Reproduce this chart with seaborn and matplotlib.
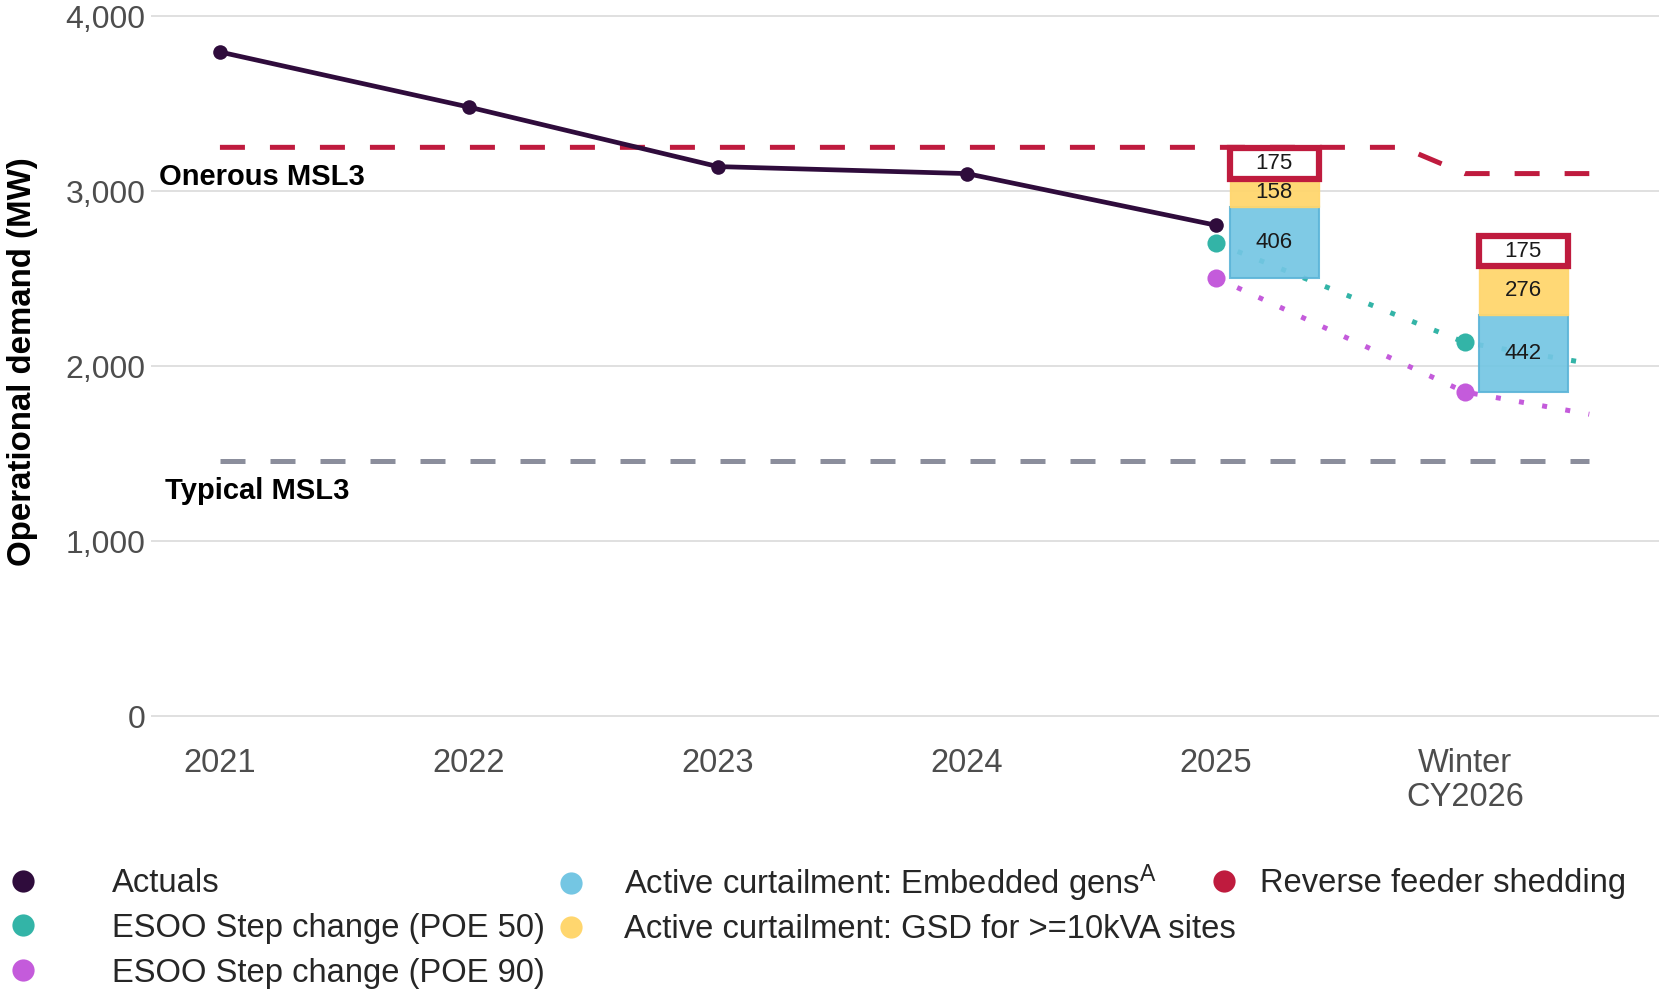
import matplotlib
matplotlib.use("Agg")
import matplotlib.pyplot as plt
from matplotlib.lines import Line2D
from matplotlib.ticker import FuncFormatter
import pandas as pd
import seaborn as sns

# ---------- data ----------
periods = ["2021", "2022", "2023", "2024", "2025", "Winter\nCY2026"]
actuals = [3795, 3480, 3140, 3100, 2805]

poe_x = [4, 5, 5.5]
poe50 = [2705, 2135, 2015]
poe90 = [2505, 1852, 1725]

onerous_x = [0, 4.75, 5, 5.5]
onerous = [3250, 3250, 3100, 3100]
typical_x = [0, 5.5]
typical = [1460, 1460]

bar_periods = [4, 5]
bar_base = [2505, 1852]
embedded = [406, 442]
gsd = [158, 276]
reverse = [175, 175]

# ---------- style ----------
C_ACT = "#2F0C3C"
C_P50 = "#33B4A7"
C_P90 = "#C45BDB"
C_EMB = "#74C6E3"
C_GSD = "#FFD66E"
C_REV = "#BF1B3E"
C_TYP = "#8B8E9C"

sns.set_style("whitegrid")
plt.rcParams["font.family"] = ["Liberation Sans", "DejaVu Sans"]
plt.rcParams["mathtext.default"] = "regular"

fig = plt.figure(figsize=(16.59, 9.94), dpi=100)
ax = fig.add_axes([0.091, 0.2752, 0.909, 0.7227])

# reference lines
sns.lineplot(x=onerous_x, y=onerous, color=C_REV, linewidth=3.6,
             linestyle=(0, (5, 5)), ax=ax, zorder=2)
sns.lineplot(x=typical_x, y=typical, color=C_TYP, linewidth=3.6,
             linestyle=(0, (5, 5)), ax=ax, zorder=2)

# ESOO projections
dots = (0, (1, 3.7))
sns.lineplot(x=poe_x, y=poe50, color=C_P50, linewidth=3.6, linestyle=dots, ax=ax, zorder=2)
sns.lineplot(x=poe_x, y=poe90, color=C_P90, linewidth=3.6, linestyle=dots, ax=ax, zorder=2)
sns.scatterplot(x=poe_x[:2], y=poe50[:2], color=C_P50, s=170, linewidth=0, ax=ax, zorder=4)
sns.scatterplot(x=poe_x[:2], y=poe90[:2], color=C_P90, s=170, linewidth=0, ax=ax, zorder=4)

# actuals
act = pd.DataFrame({"x": range(len(actuals)), "y": actuals})
sns.lineplot(data=act, x="x", y="y", color=C_ACT, linewidth=3.4, marker="o",
             markersize=10.5, markeredgewidth=0, ax=ax, zorder=5)

# stacked curtailment bars
bx = [p + 0.235 for p in bar_periods]
b1 = ax.bar(bx, embedded, bottom=bar_base, width=0.355, color=C_EMB, alpha=0.92,
            edgecolor="#5DB5D8", linewidth=1.5, zorder=3)
base2 = [b + e for b, e in zip(bar_base, embedded)]
b2 = ax.bar(bx, gsd, bottom=base2, width=0.355, color=C_GSD, alpha=0.95,
            edgecolor=C_GSD, linewidth=1, zorder=3)
base3 = [b + g for b, g in zip(base2, gsd)]
b3 = ax.bar(bx, reverse, bottom=base3, width=0.355, color="white",
            edgecolor=C_REV, linewidth=4.5, zorder=3)
for cont, vals in [(b1, embedded), (b2, gsd), (b3, reverse)]:
    ax.bar_label(cont, labels=[str(v) for v in vals], label_type="center",
                 fontsize=16, color="#1a1a1a", zorder=6)

ax.text(-0.246, 3082, "Onerous MSL3", fontsize=21, fontweight="bold",
        va="center", ha="left", color="black")
ax.text(-0.221, 1287, "Typical MSL3", fontsize=21, fontweight="bold",
        va="center", ha="left", color="black")

# axes
ax.set_xlim(-0.277, 5.78)
ax.set_ylim(-25, 4080)
ax.set_xticks(range(len(periods)))
ax.set_xticklabels(periods, linespacing=1.1)
ax.set_yticks([0, 1000, 2000, 3000, 4000])
ax.yaxis.set_major_formatter(FuncFormatter(lambda v, p: f"{v:,.0f}"))
ax.tick_params(axis="x", labelsize=23.5, labelcolor="#4D4D4D", pad=16,
               length=4, color="#D6D6D6", width=1)
ax.tick_params(axis="y", labelsize=23, labelcolor="#4D4D4D", pad=4, length=0)
ax.grid(axis="x", visible=False)
ax.grid(axis="y", color="#DADADA", linewidth=1.2)
for s in ax.spines.values():
    s.set_visible(False)
ax.set_xlabel("")
ax.set_ylabel("Operational demand (MW)", fontsize=23.8, fontweight="bold",
              color="black", labelpad=20)

# ---------- legend (three columns) ----------
def dot(c):
    return Line2D([], [], linestyle="none", marker="o", markersize=16,
                  markerfacecolor=c, markeredgewidth=0)

cols = [
    ([dot(C_ACT), dot(C_P50), dot(C_P90)],
     ["Actuals", "ESOO Step change (POE 50)", "ESOO Step change (POE 90)"],
     10, 2.3, 868, 0.42),
    ([dot(C_EMB), dot(C_GSD)],
     ["Active curtailment: Embedded gens$^{A}$", "Active curtailment: GSD for >=10kVA sites"],
     558, 1.2, 863, 0.29),
    ([dot(C_REV)], ["Reverse feeder shedding"], 1211, 0.69, 868, 0.42),
]
for handles, labels, left, htp, top, ls in cols:
    fig.legend(handles, labels, loc="upper left",
               bbox_to_anchor=(left / 1659, 1 - top / 994),
               frameon=False, fontsize=23.6, handlelength=0.8,
               handletextpad=htp, borderpad=0, borderaxespad=0,
               labelspacing=ls)

fig.savefig("out.png", dpi=100)
